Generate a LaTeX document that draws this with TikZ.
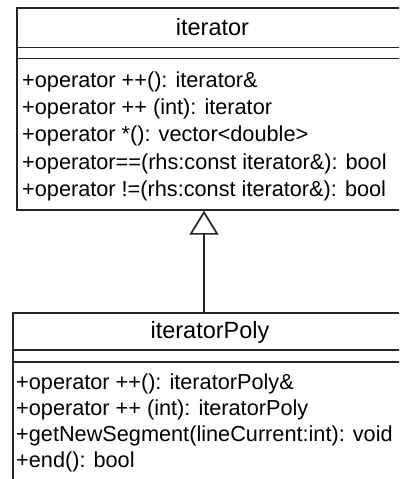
\documentclass[tikz,border=0pt]{standalone}
\usepackage{fontspec}
\setmainfont{Liberation Sans}
\usetikzlibrary{arrows.meta}
\tikzset{
  classbox/.style={draw=black!85, line width=1.7pt, rectangle, inner sep=0pt, anchor=north west},
  sepline/.style={draw=black!85, line width=1.7pt},
  ctitle/.style={inner sep=0pt, anchor=base, font=\fontsize{23.5}{26}\selectfont},
  member/.style={inner sep=0pt, anchor=base west, font=\fontsize{21.7}{26}\selectfont},
  inherit/.style={draw=black!85, line width=1.7pt, -{Triangle[open, length=24pt, width=29pt, line width=1.7pt]}}
}
\begin{document}
\begin{tikzpicture}[x=1pt, y=-1pt]
\useasboundingbox (0,0) rectangle (399,479);
\clip (0,0) rectangle (399,479);
% superclass
\node[classbox, minimum width=393pt, minimum height=202pt] (top) at (16,7) {};
\node[ctitle] (topT) at (212.5,35) {iterator};
\draw[sepline] (top.west |- 0,47.5) -- (top.east |- 0,47.5);
\draw[sepline] (top.west |- 0,58.5) -- (top.east |- 0,58.5);
\node[member] (t1) at (22,87) {+operator ++(): iterator\&};
\node[member] (t2) at (22,114) {+operator ++ (int): iterator};
\node[member] (t3) at (22,141) {+operator *(): vector<double>};
\node[member] (t4) at (22,169) {+operator==(rhs:const iterator\&): bool};
\node[member] (t5) at (22,196) {+operator !=(rhs:const iterator\&): bool};
% subclass
\node[classbox, minimum width=396pt, minimum height=190pt] (sub) at (12,312) {};
\node[ctitle] (subT) at (210,338) {iteratorPoly};
\draw[sepline] (sub.west |- 0,350) -- (sub.east |- 0,350);
\draw[sepline] (sub.west |- 0,362) -- (sub.east |- 0,362);
\node[member] (s1) at (16,389) {+operator ++(): iteratorPoly\&};
\node[member] (s2) at (16,415) {+operator ++ (int): iteratorPoly};
\node[member] (s3) at (16,441) {+getNewSegment(lineCurrent:int): void};
\node[member] (s4) at (16,467) {+end(): bool};
% generalization
\coordinate (ax) at (204,0);
\draw[inherit] (sub.north -| ax) -- (top.south -| ax);
\end{tikzpicture}
\end{document}
